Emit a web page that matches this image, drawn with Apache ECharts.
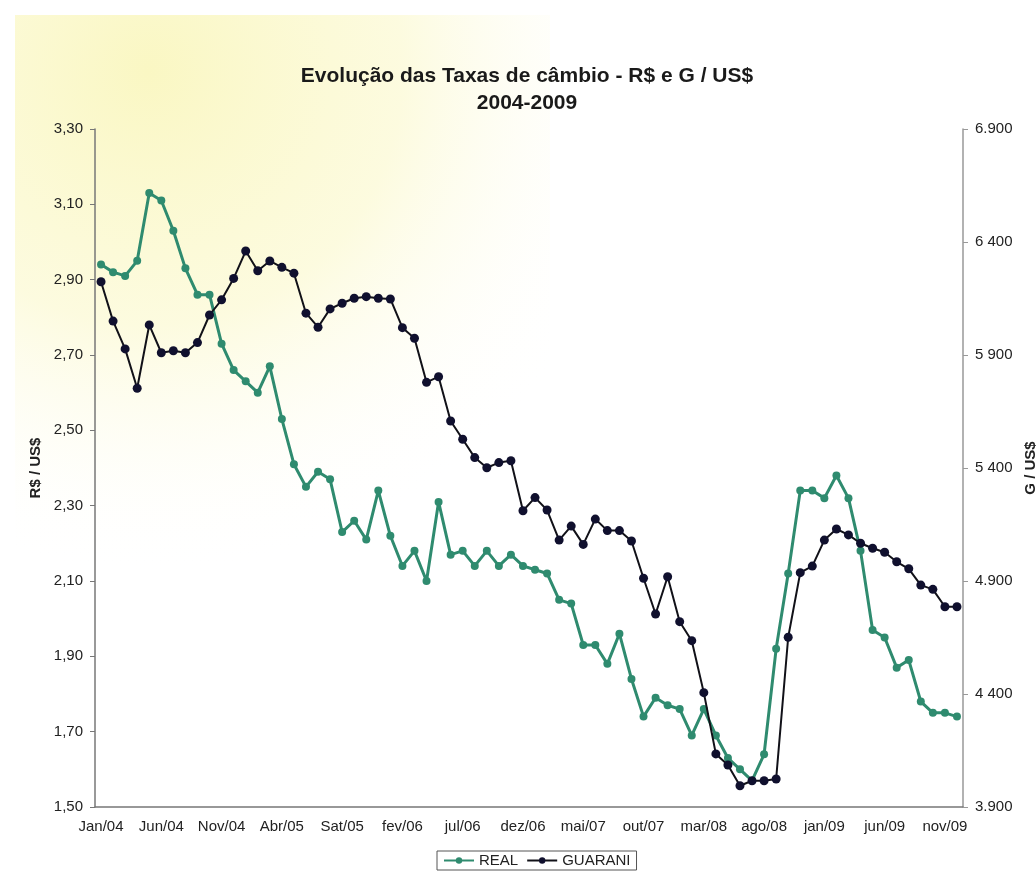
<!DOCTYPE html>
<html>
<head>
<meta charset="utf-8">
<script src="https://cdn.jsdelivr.net/npm/echarts@6/dist/echarts.min.js"></script>
<style>
  html, body { margin: 0; padding: 0; background: #ffffff; }
  #chart { width: 1036px; height: 873px; }
</style>
</head>
<body>
<div id="chart"></div>
<script>
// meses (jan/2004 - dez/2009), rótulos como no original
const months = [
  "Jan/04", "Fev/04", "Mar/04", "Abr/04", "Mai/04", "Jun/04", "Jul/04", "Ago/04", "Set/04", "Out/04", "Nov/04", "Dez/04",
  "Jan/05", "Fev/05", "Mar/05", "Abr/05", "Mai/05", "Jun/05", "Jul/05", "Ago/05", "Sat/05", "Out/05", "Nov/05", "Dez/05",
  "jan/06", "fev/06", "mar/06", "abr/06", "mai/06", "jun/06", "jul/06", "ago/06", "set/06", "out/06", "nov/06", "dez/06",
  "jan/07", "fev/07", "mar/07", "abr/07", "mai/07", "jun/07", "jul/07", "ago/07", "set/07", "out/07", "nov/07", "dez/07",
  "jan/08", "fev/08", "mar/08", "abr/08", "mai/08", "jun/08", "jul/08", "ago/08", "set/08", "out/08", "nov/08", "dez/08",
  "jan/09", "fev/09", "mar/09", "abr/09", "mai/09", "jun/09", "jul/09", "ago/09", "set/09", "out/09", "nov/09", "dez/09"
];

// R$ / US$
const real = [
  2.94, 2.92, 2.91, 2.95, 3.13, 3.11, 3.03, 2.93, 2.86, 2.86, 2.73, 2.66,
  2.63, 2.60, 2.67, 2.53, 2.41, 2.35, 2.39, 2.37, 2.23, 2.26, 2.21, 2.34,
  2.22, 2.14, 2.18, 2.10, 2.31, 2.17, 2.18, 2.14, 2.18, 2.14, 2.17, 2.14,
  2.13, 2.12, 2.05, 2.04, 1.93, 1.93, 1.88, 1.96, 1.84, 1.74, 1.79, 1.77,
  1.76, 1.69, 1.76, 1.69, 1.63, 1.60, 1.57, 1.64, 1.92, 2.12, 2.34, 2.34,
  2.32, 2.38, 2.32, 2.18, 1.97, 1.95, 1.87, 1.89, 1.78, 1.75, 1.75, 1.74
];

// G / US$
const guarani = [
  6224, 6050, 5927, 5753, 6033, 5910, 5919, 5910, 5955, 6077, 6144, 6239,
  6360, 6273, 6316, 6288, 6262, 6085, 6023, 6104, 6129, 6151, 6158, 6151,
  6148, 6021, 5974, 5779, 5804, 5608, 5527, 5446, 5401, 5424, 5432, 5211,
  5269, 5214, 5081, 5143, 5062, 5174, 5123, 5123, 5077, 4912, 4754, 4919,
  4720, 4636, 4406, 4135, 4086, 3994, 4016, 4016, 4024, 4651, 4937, 4966,
  5081, 5130, 5104, 5067, 5045, 5027, 4985, 4954, 4882, 4863, 4786, 4786
];

const rightTickLabels = ["3.900", "4 400", "4.900", "5 400", "5 900", "6 400", "6.900"];

const chart = echarts.init(document.getElementById("chart"));

const axisText = { fontFamily: "Liberation Sans", fontSize: 15, color: "#222" };

const option = {
  backgroundColor: "#ffffff",
  animation: false,
  graphic: [
    {
      type: "rect",
      left: 15,
      top: 15,
      z: -10,
      silent: true,
      shape: { width: 535, height: 560 },
      style: {
        fill: new echarts.graphic.RadialGradient(0.25, 0.1, 0.95, [
          { offset: 0, color: "rgba(250,247,195,1)" },
          { offset: 0.5, color: "rgba(252,250,215,0.8)" },
          { offset: 1, color: "rgba(255,255,255,0)" }
        ])
      }
    }
  ],
  title: {
    text: "Evolução das Taxas de câmbio - R$ e G / US$\n2004-2009",
    left: 522,
    top: 58,
    textAlign: "center",
    textStyle: {
      fontFamily: "Liberation Sans",
      fontSize: 21,
      fontWeight: "bold",
      color: "#1a1a1a",
      lineHeight: 27
    }
  },
  legend: {
    data: ["REAL", "GUARANI"],
    top: 851,
    left: 437,
    itemWidth: 30,
    itemHeight: 8,
    itemGap: 8,
    padding: [2, 6],
    borderColor: "#555",
    borderWidth: 1,
    textStyle: { fontFamily: "Liberation Sans", fontSize: 15, color: "#222" }
  },
  grid: { left: 95, right: 73, top: 129, bottom: 66, outerBoundsMode: "none", containLabel: false },
  xAxis: {
    type: "category",
    data: months,
    boundaryGap: true,
    axisLine: { lineStyle: { color: "#777", width: 1.5 } },
    axisTick: { interval: 4, length: 5, lineStyle: { color: "#777" } },
    axisLabel: Object.assign({ interval: 4, margin: 12 }, axisText)
  },
  yAxis: [
    {
      type: "value",
      min: 1.5,
      max: 3.3,
      interval: 0.2,
      name: "R$ / US$",
      nameLocation: "middle",
      nameRotate: 90,
      nameGap: 52,
      nameTextStyle: { fontFamily: "Liberation Sans", fontSize: 15, fontWeight: "bold", color: "#222" },
      splitLine: { show: false },
      axisLine: { show: true, lineStyle: { color: "#777", width: 1.5 } },
      axisTick: { show: true, length: 5, lineStyle: { color: "#777" } },
      axisLabel: Object.assign({
        margin: 12,
        formatter: (v) => v.toFixed(2).replace(".", ",")
      }, axisText)
    },
    {
      type: "value",
      min: 3900,
      max: 6900,
      interval: 500,
      position: "right",
      name: "G / US$",
      nameLocation: "middle",
      nameRotate: 90,
      nameGap: 59,
      nameTextStyle: { fontFamily: "Liberation Sans", fontSize: 15, fontWeight: "bold", color: "#222" },
      splitLine: { show: false },
      axisLine: { show: true, lineStyle: { color: "#999", width: 1.5 } },
      axisTick: { show: true, length: 5, lineStyle: { color: "#999" } },
      axisLabel: Object.assign({
        margin: 12,
        formatter: (v) => rightTickLabels[Math.round((v - 3900) / 500)]
      }, axisText)
    }
  ],
  series: [
    {
      name: "REAL",
      type: "line",
      yAxisIndex: 0,
      data: real,
      symbol: "circle",
      symbolSize: 8,
      showAllSymbol: true,
      lineStyle: { color: "#2f8b6f", width: 3 },
      itemStyle: { color: "#2f8b6f" },
      z: 3
    },
    {
      name: "GUARANI",
      type: "line",
      yAxisIndex: 1,
      data: guarani,
      symbol: "circle",
      symbolSize: 9,
      showAllSymbol: true,
      lineStyle: { color: "#111118", width: 2 },
      itemStyle: { color: "#10102e" },
      z: 4
    }
  ]
};

chart.setOption(option);
</script>
</body>
</html>
